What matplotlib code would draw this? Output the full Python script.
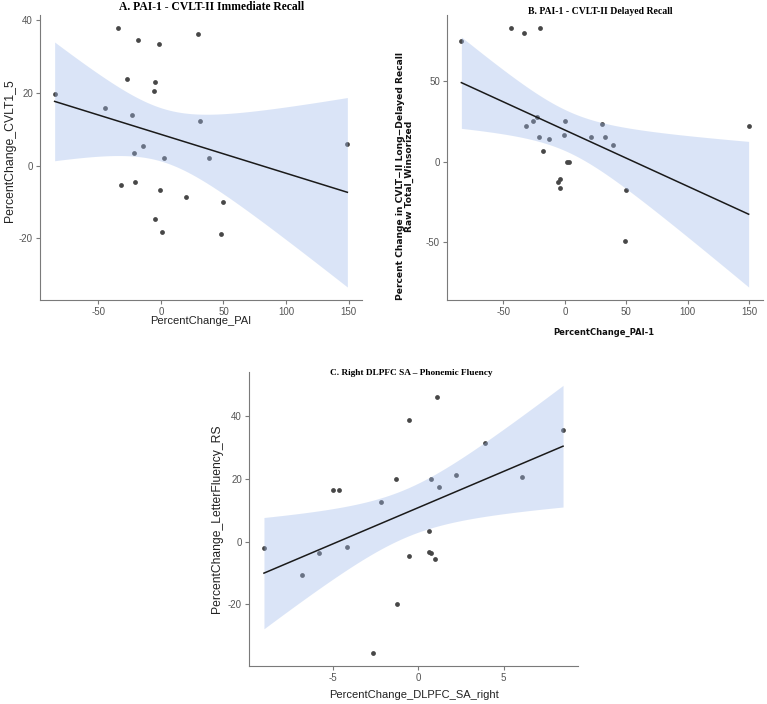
import numpy as np
import matplotlib
matplotlib.use('Agg')
import matplotlib.pyplot as plt

plt.rcParams['axes.unicode_minus'] = False

# panel A: PAI-1 change vs CVLT trials 1-5
pai_a = [-84.9, -34.3, -18.1, -1.6, 29.8, -27.1, -5.1, -5.9, -44.4, -23.4, 31.4, -14.4,
         -21.5, 2.4, 38.8, 149.0, -32.2, -20.5, -1.1, 20.2, 49.7, -4.8, 0.8, 48.1]
cvlt_a = [19.7, 37.9, 34.6, 33.4, 36.3, 23.9, 23.0, 20.5, 15.8, 14.0, 12.3, 5.4,
          3.5, 2.1, 2.2, 5.9, -5.3, -4.6, -6.7, -8.7, -10.1, -14.6, -18.2, -18.9]

# panel B: PAI-1 change vs long-delayed recall
pai_b = [-84.3, -43.7, -33.6, -20.0, -31.5, -26.1, -22.9, -0.3, -21.1, -13.3, -1.1, -17.6,
         1.9, 3.5, -5.6, -3.7, -4.3, 21.1, 30.4, 32.5, 39.5, 50.1, 49.1, 149.6]
cvlt_b = [75.1, 83.4, 80.1, 83.4, 22.4, 25.1, 27.6, 25.1, 15.6, 14.3, 16.8, 6.8,
          0.0, 0.0, -12.5, -11.0, -16.6, 15.6, 23.2, 15.6, 10.2, -18.0, -49.8, 22.4]

# panel C: right DLPFC surface area vs letter fluency
dlpfc = [-9.06, -6.84, -5.85, -4.19, -5.03, -4.66, -2.20, -1.33, -1.25, -2.67, -0.53, -0.57,
         1.09, 0.74, 1.23, 0.60, 0.60, 0.74, 0.99, 2.22, 3.92, 6.08, 8.48]
fluency = [-2.2, -10.6, -3.8, -1.8, 16.6, 16.6, 12.6, 20.0, -20.0, -35.5, 38.7, -4.7,
           46.1, 20.0, 17.4, 3.3, -3.3, -3.6, -5.7, 21.1, 31.5, 20.5, 35.7]

T975 = {21: 2.080, 22: 2.074}

W, H = 767, 704


def px(x, y):
    return x / W, 1 - y / H


def fit_band(x, y, n_grid=80):
    x = np.asarray(x, float)
    y = np.asarray(y, float)
    n = len(x)
    b, a = np.polyfit(x, y, 1)
    s = np.sqrt(np.sum((y - (a + b * x)) ** 2) / (n - 2))
    xs = np.linspace(x.min(), x.max(), n_grid)
    se = s * np.sqrt(1 / n + (xs - x.mean()) ** 2 / np.sum((x - x.mean()) ** 2))
    fit = a + b * xs
    t = T975[n - 2]
    return xs, fit, fit - t * se, fit + t * se


def panel(rect, x, y, xticks, yticks):
    l, t, r, b = rect
    ax = fig.add_axes([l / W, 1 - b / H, (r - l) / W, (b - t) / H])
    xs, fit, lo, hi = fit_band(x, y)
    ax.scatter(x, y, s=12, color='#474747', linewidths=0, zorder=2)
    ax.fill_between(xs, lo, hi, color='#a0baea', alpha=0.38, linewidth=0, zorder=3)
    ax.plot(xs, fit, color='#1a1a1a', lw=1.1, zorder=4)
    # ggplot style 5% expansion
    xmin, xmax = min(x), max(x)
    ymin, ymax = min(min(y), lo.min()), max(max(y), hi.max())
    dx, dy = (xmax - xmin) * 0.05, (ymax - ymin) * 0.05
    ax.set_xlim(xmin - dx, xmax + dx)
    ax.set_ylim(ymin - dy, ymax + dy)
    ax.set_xticks(xticks)
    ax.set_yticks(yticks)
    for sp in ['top', 'right']:
        ax.spines[sp].set_visible(False)
    for sp in ['left', 'bottom']:
        ax.spines[sp].set_color('#7a7a7a')
        ax.spines[sp].set_linewidth(0.8)
    ax.tick_params(length=3, width=0.8, color='#7a7a7a', labelcolor='#555555',
                   labelsize=7, pad=2)
    for lab in ax.get_xticklabels() + ax.get_yticklabels():
        lab.set_family('Liberation Sans')
    return ax


fig = plt.figure(figsize=(W / 100, H / 100), dpi=100)

panel((40, 15, 362, 300), pai_a, cvlt_a, [-50, 0, 50, 100, 150], [-20, 0, 20, 40])
panel((447, 15, 763, 300), pai_b, cvlt_b, [-50, 0, 50, 100, 150], [-50, 0, 50])
panel((249, 372, 578, 666), dlpfc, fluency, [-5, 0, 5], [-20, 0, 20, 40])

serif = dict(family='Liberation Serif', weight='bold', ha='center', va='center')
fig.text(*px(212, 7), 'A. PAI-1 - CVLT-II Immediate Recall', fontsize=8.4, **serif)
fig.text(*px(600, 11), 'B. PAI-1 - CVLT-II Delayed Recall', fontsize=7, **serif)
fig.text(*px(411, 373), 'C. Right DLPFC SA \u2013 Phonemic Fluency', fontsize=6.7, **serif)

sans = dict(family='Liberation Sans', color='#222222', ha='center', va='center')
fig.text(*px(201, 321), 'PercentChange_PAI', fontsize=8, **sans)
fig.text(*px(10, 151), 'PercentChange_CVLT1_5', fontsize=8.8, rotation=90, **sans)
fig.text(*px(414, 695), 'PercentChange_DLPFC_SA_right', fontsize=8, **sans)
fig.text(*px(217, 519), 'PercentChange_LetterFluency_RS', fontsize=8.7, rotation=90, **sans)

bold = dict(family='DejaVu Sans', weight='bold', color='#111111', ha='center', va='center')
fig.text(*px(604, 332), 'PercentChange_PAI-1', fontsize=6, **bold)
fig.text(*px(405, 176), 'Percent Change in CVLT\u2212II Long\u2212Delayed Recall\nRaw Total_Winsorized',
         fontsize=6.6, rotation=90, linespacing=0.95, **bold)

fig.savefig('out.png', dpi=100)
